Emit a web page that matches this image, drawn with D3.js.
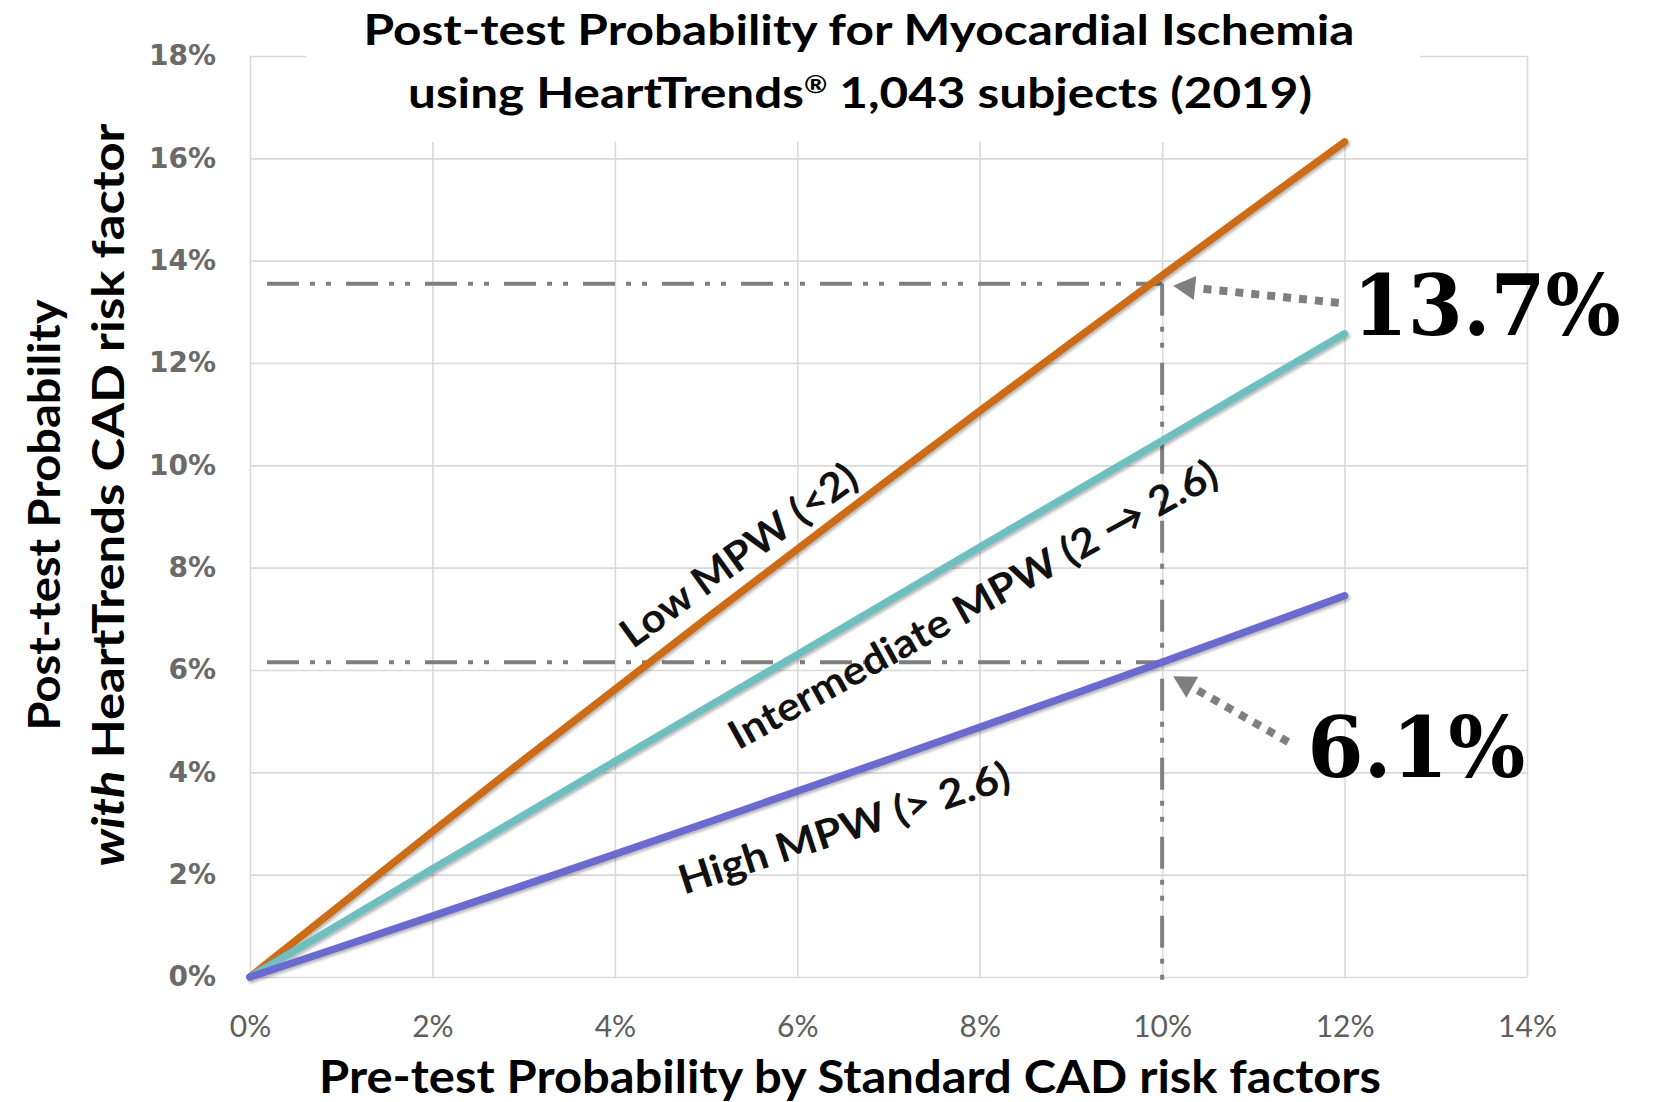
<!DOCTYPE html>
<html>
<head>
<meta charset="utf-8">
<script src="https://cdn.jsdelivr.net/npm/d3@7/dist/d3.min.js"></script>
<style>
  body { margin: 0; background: #fff; }
  svg { display: block; }
</style>
</head>
<body>
<div id="chart"></div>
<script>
// pre-test probability (%) and post-test probability (%) per MPW group
const pretest = [0, 1, 2, 3, 4, 5, 6, 7, 8, 9, 10, 11, 12];
const lowMPW = [0, 1.42, 2.84, 4.24, 5.62, 7.00, 8.36, 9.72, 11.06, 12.39, 13.71, 15.02, 16.32];
const intermediateMPW = [0, 1.05, 2.11, 3.16, 4.21, 5.26, 6.30, 7.35, 8.40, 9.44, 10.48, 11.53, 12.57];
const highMPW = [0, 0.59, 1.19, 1.79, 2.40, 3.01, 3.63, 4.25, 4.88, 5.51, 6.15, 6.80, 7.45];
const seriesNames = ['Low MPW (<2)', 'Intermediate MPW (2 → 2.6)', 'High MPW (> 2.6)'];

const xTicks = [0, 2, 4, 6, 8, 10, 12, 14];
const yTicks = [0, 2, 4, 6, 8, 10, 12, 14, 16, 18];

// read-off markers at 10% pre-test
const markX = 10;
const markLevels = [13.55, 6.15];
const markLabels = ['13.7%', '6.1%'];

const width = 1653;
const height = 1102;

const colors = ['#cc6c17', '#6fbfc0', '#6a6acf'];
const gridColor = '#d9d9d9';
const markColor = '#7f7f7f';

const svg = d3.select('#chart')
  .append('svg')
  .attr('width', width)
  .attr('height', height);

const x = d3.scaleLinear().domain([0, 14]).range([250, 1527]);
const y = d3.scaleLinear().domain([0, 18]).range([977, 56]);

const defs = svg.append('defs');
const shadow = defs.append('filter').attr('id', 'shadow')
  .attr('x', '-5%').attr('y', '-5%').attr('width', '110%').attr('height', '110%');
shadow.append('feDropShadow')
  .attr('dx', 1.5).attr('dy', 2).attr('stdDeviation', 1.5)
  .attr('flood-color', '#000').attr('flood-opacity', 0.3);

// grid + tick labels
const yAxis = d3.axisLeft(y)
  .tickValues(yTicks)
  .tickSize(-(x(14) - x(0)))
  .tickPadding(34)
  .tickFormat(d => d + '%');

const xAxis = d3.axisBottom(x)
  .tickValues(xTicks)
  .tickSize(-(y(0) - y(18)))
  .tickPadding(39)
  .tickFormat(d => d + '%');

const gy = svg.append('g')
  .attr('transform', `translate(${x(0)},0)`)
  .call(yAxis);
const gx = svg.append('g')
  .attr('transform', `translate(0,${y(0)})`)
  .call(xAxis);

[gx, gy].forEach(g => {
  g.select('.domain').remove();
  g.selectAll('.tick line').attr('stroke', gridColor).attr('stroke-width', 1.6);
});
gy.selectAll('.tick text')
  .attr('fill', '#6a6a6a')
  .style('font-family', '"DejaVu Sans", sans-serif')
  .style('font-weight', 'bold')
  .style('font-size', '28px');
gx.selectAll('.tick text')
  .attr('fill', '#5e5e5e')
  .style('font-family', 'Lato, sans-serif')
  .style('font-size', '30px');

// white box behind the title hides the top of the grid
svg.append('rect')
  .attr('x', 306).attr('y', 0)
  .attr('width', 1420 - 306).attr('height', 142)
  .attr('fill', '#fff');

// dash-dot read-off lines
const dashPattern = '32,11,5,11,5,15';
markLevels.forEach(v => {
  svg.append('line')
    .attr('x1', x(0) + 17).attr('x2', x(markX))
    .attr('y1', y(v)).attr('y2', y(v))
    .attr('stroke', markColor).attr('stroke-width', 4)
    .attr('stroke-dasharray', dashPattern);
});
svg.append('line')
  .attr('x1', x(markX)).attr('x2', x(markX))
  .attr('y1', y(d3.max(markLevels))).attr('y2', y(0) + 11)
  .attr('stroke', markColor).attr('stroke-width', 4)
  .attr('stroke-dasharray', dashPattern);

// series lines
const series = [lowMPW, intermediateMPW, highMPW];
const line = d3.line()
  .x((d, i) => x(pretest[i]))
  .y(d => y(d));

svg.append('g')
  .attr('filter', 'url(#shadow)')
  .selectAll('path')
  .data(series)
  .enter()
  .append('path')
  .attr('d', d => line(d))
  .attr('fill', 'none')
  .attr('stroke', (d, i) => colors[i])
  .attr('stroke-width', 7.5)
  .attr('stroke-linecap', 'round')
  .attr('stroke-linejoin', 'round');

// labels along the lines
const labelAt = [
  { at: 5.35, dy: -40, angle: -36, len: 282 },
  { at: 7.92, dy: 52, angle: -29, len: 552 },
  { at: 6.51, dy: 52, angle: -18, len: 346 }
];
series.forEach((s, i) => {
  const f = d3.scaleLinear().domain(pretest).range(s);
  const p = labelAt[i];
  svg.append('text')
    .attr('transform', `translate(${x(p.at)},${y(f(p.at)) + p.dy}) rotate(${p.angle})`)
    .attr('text-anchor', 'middle')
    .attr('dominant-baseline', 'central')
    .attr('textLength', p.len)
    .attr('lengthAdjust', 'spacingAndGlyphs')
    .style('font-family', 'Lato, sans-serif')
    .style('font-weight', 'bold')
    .style('font-size', '40px')
    .attr('fill', '#111')
    .text(seriesNames[i]);
});

// big value callouts with dotted arrows
const callouts = [
  { tx: 12.09, ty: 12.55, len: 268, tail: [-14, -32], tip: [11, 2] },
  { tx: 11.59, ty: 3.91, len: 218, tail: [-19, -35], tip: [11, 14] }
];
callouts.forEach((c, i) => {
  const left = x(c.tx);
  const base = y(c.ty);
  svg.append('text')
    .attr('x', left).attr('y', base)
    .attr('textLength', c.len)
    .attr('lengthAdjust', 'spacingAndGlyphs')
    .style('font-family', '"DejaVu Serif", serif')
    .style('font-weight', 'bold')
    .style('font-size', '84px')
    .attr('fill', '#000')
    .text(markLabels[i]);

  const tailX = left + c.tail[0], tailY = base + c.tail[1];
  const tipX = x(markX) + c.tip[0], tipY = y(markLevels[i]) + c.tip[1];
  const dx = tipX - tailX, dy = tipY - tailY;
  const L = Math.hypot(dx, dy);
  const ux = dx / L, uy = dy / L;
  const headLen = 22, headHalf = 12;
  const bx = tipX - ux * headLen, by = tipY - uy * headLen;
  svg.append('line')
    .attr('x1', tailX).attr('y1', tailY)
    .attr('x2', bx - ux * 4).attr('y2', by - uy * 4)
    .attr('stroke', markColor).attr('stroke-width', 8)
    .attr('stroke-dasharray', '8,8');
  svg.append('path')
    .attr('d', `M${tipX},${tipY}L${bx - uy * headHalf},${by + ux * headHalf}L${bx + uy * headHalf},${by - ux * headHalf}Z`)
    .attr('fill', markColor);
});

// titles
const title = svg.append('g')
  .style('font-family', 'Lato, sans-serif')
  .style('font-weight', 'bold')
  .attr('fill', '#000');

title.append('text')
  .attr('x', 859).attr('y', 45)
  .attr('text-anchor', 'middle')
  .attr('textLength', 991).attr('lengthAdjust', 'spacingAndGlyphs')
  .style('font-size', '42px')
  .text('Post-test Probability for Myocardial Ischemia');

const t2 = title.append('text')
  .attr('x', 860).attr('y', 108)
  .attr('text-anchor', 'middle')
  .attr('textLength', 904).attr('lengthAdjust', 'spacingAndGlyphs')
  .style('font-size', '42px');
t2.append('tspan').text('using HeartTrends');
t2.append('tspan').attr('dy', -15).style('font-size', '24px').text('®');
t2.append('tspan').attr('dy', 15).text(' 1,043 subjects (2019)');

title.append('text')
  .attr('x', 850).attr('y', 1093)
  .attr('text-anchor', 'middle')
  .attr('textLength', 1062).attr('lengthAdjust', 'spacingAndGlyphs')
  .style('font-size', '45px')
  .text('Pre-test Probability by Standard CAD risk factors');

title.append('text')
  .attr('transform', 'translate(60,515) rotate(-90)')
  .attr('text-anchor', 'middle')
  .attr('textLength', 431).attr('lengthAdjust', 'spacingAndGlyphs')
  .style('font-size', '44px')
  .text('Post-test Probability');

const yt2 = title.append('text')
  .attr('transform', 'translate(124,495) rotate(-90)')
  .attr('text-anchor', 'middle')
  .attr('textLength', 743).attr('lengthAdjust', 'spacingAndGlyphs')
  .style('font-size', '44px');
yt2.append('tspan').style('font-style', 'italic').text('with');
yt2.append('tspan').text(' HeartTrends CAD risk factor');
</script>
</body>
</html>
